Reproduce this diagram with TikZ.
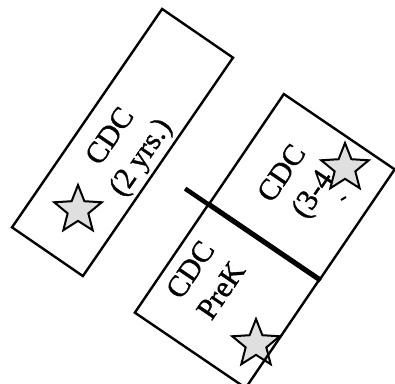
\documentclass[tikz,border=0pt]{standalone}
\usepackage{fontspec}
\setmainfont{Liberation Serif}
\newfontfamily\roomfont[FakeBold=1.2]{Liberation Serif}
\usetikzlibrary{shapes.geometric, calc}

\tikzset{
    room/.style={draw, line width=2.4pt, inner sep=0pt},
    marker/.style={star, star points=5, star point ratio=2.3, minimum size=50pt,
        inner sep=0pt, draw, line width=2pt, fill=gray!25},
    label/.style={align=center, inner sep=0pt, font=\roomfont\fontsize{30}{37}\selectfont}
}

\begin{document}
\begin{tikzpicture}[x=1pt, y=-1pt]
    \useasboundingbox (0,0) rectangle (395,383);
    \clip (0,0) rectangle (395,383);
    % Stars
    \foreach \name/\x/\y in {Star-1/78/210, Star-2/345/168, Star-3/256/344} {
        \node[marker] (\name) at (\x,\y) {};
    }
    % Rooms
    \node[room, minimum width=265pt, minimum height=86pt, rotate=55.5]
    (Room-2yrs) at (122.5,142.5) {};
    \node[room, minimum width=132.5pt, minimum height=134pt, rotate=55.8]
    (Room-34) at (302,186.5) {};
    \node[room, minimum width=132.5pt, minimum height=134pt, rotate=55.8]
    (Room-PreK) at (227.5,295.5) {};
    % Wall
    \draw[line width=4.5pt]
    ($(Room-34.north west)!-0.2!(Room-34.south west)$) -- (Room-34.south west);
    % Labels
    \node[label, rotate=55.5] (Label-2yrs) at (127,148) {CDC\\(2 yrs.)};
    \node[label, rotate=55.8] (Label-34) at (299,185) {CDC\\(3-4};
    \node[label, rotate=55.8] (Label-PreK) at (205.5,280) {CDC\\PreK};
    \draw[line width=2pt] (341,200) -- (346,197);
\end{tikzpicture}
\end{document}
